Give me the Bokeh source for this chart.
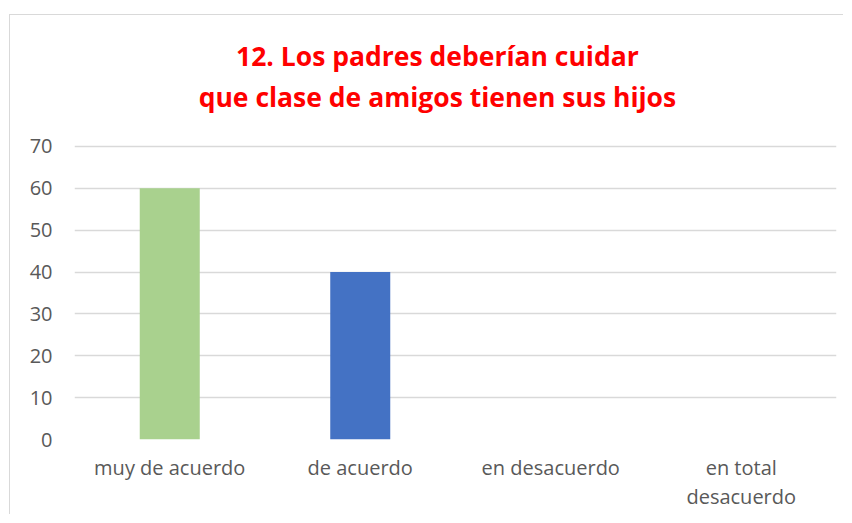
from bokeh.plotting import figure
from bokeh.models import Label, ColumnDataSource, Range1d, FactorRange
from bokeh.embed import file_html
from bokeh.resources import INLINE

categories = ["muy de acuerdo", "de acuerdo", "en desacuerdo", "en total\ndesacuerdo"]
values = [60, 40, 0, 0]
colors = ["#A9D18E", "#4472C4", "#A9D18E", "#4472C4"]
title_lines = ["12. Los padres deberían cuidar", "que clase de amigos tienen sus hijos"]
y_ticks = [0, 10, 20, 30, 40, 50, 60, 70]

src = ColumnDataSource(dict(cat=categories, val=values, color=colors))

p = figure(width=834, height=500, x_range=FactorRange(*categories, range_padding=0),
           y_range=Range1d(0, 97.7), output_backend="svg", toolbar_location=None,
           min_border_left=64, min_border_right=8, min_border_top=15, min_border_bottom=76,
           margin=(14, 0, 0, 9),
           styles={"border-top": "1px solid #d9d9d9", "border-left": "1px solid #d9d9d9"})
p.outline_line_color = None
p.vbar(x="cat", top="val", width=0.315, fill_color="color", line_color=None, source=src)

p.xgrid.grid_line_color = None
p.ygrid.grid_line_color = "#d9d9d9"
p.ygrid.grid_line_width = 1.5
p.yaxis.ticker = y_ticks
for ax in (p.xaxis, p.yaxis):
    ax.axis_line_color = None
    ax.major_tick_line_color = None
    ax.minor_tick_line_color = None
    ax.major_tick_out = 0
    ax.major_tick_in = 0
    ax.major_label_text_font = "Open Sans"
    ax.major_label_text_font_size = "20px"
    ax.major_label_text_color = "#595959"
p.xaxis.major_label_text_line_height = 1.1
p.yaxis.major_label_standoff = 22
p.xaxis.major_label_standoff = 14

for t, y in zip(title_lines, [91.7, 81.7]):
    p.add_layout(Label(x=1.905, y=y, text=t, text_align="center", text_baseline="middle",
                       text_font="Open Sans", text_font_style="bold", text_font_size="26.5px",
                       text_color="#FF0000"))

open("out.html", "w").write(file_html(p, INLINE))
